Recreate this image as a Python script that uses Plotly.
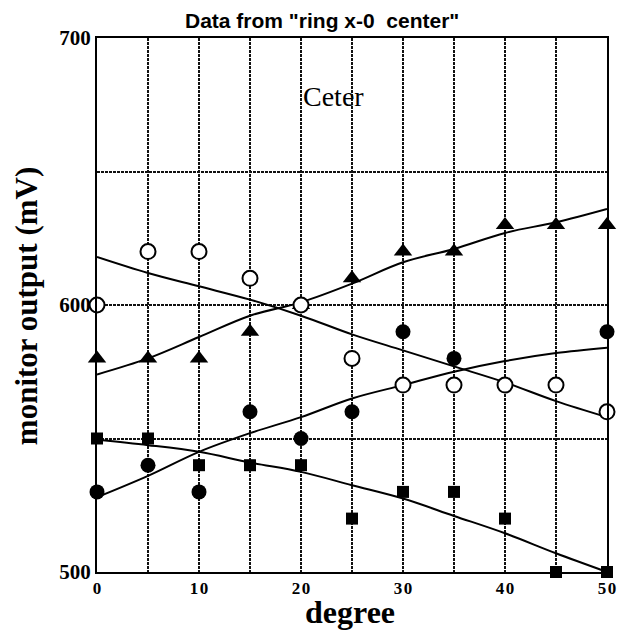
import plotly.graph_objects as go

degree = [0, 5, 10, 15, 20, 25, 30, 35, 40, 45, 50]

open_circle = [600, 620, 620, 610, 600, 580, 570, 570, 570, 570, 560]
triangle = [580, 580, 580, 590, 600, 610, 620, 620, 630, 630, 630]
square = [550, 550, 540, 540, 540, 520, 530, 530, 520, 500, 500]
filled_x = [0, 5, 10, 15, 20, 25, 30, 35, 50]
filled_circle = [530, 540, 530, 560, 550, 560, 590, 580, 590]

fit_open = [618, 612, 607, 602, 596, 589, 583, 577, 571, 564, 558]
fit_triangle = [574, 580, 588, 596, 601, 608, 616, 621, 627, 631, 636]
fit_filled = [528, 536, 545, 552, 558, 565, 570, 575, 579, 582, 584]
fit_square = [549.5, 547.5, 545, 541, 537.5, 532.5, 527.5, 521, 514.5, 507, 500]

x_ticks = [0, 10, 20, 30, 40, 50]
y_ticks = [500, 600, 700]

fig = go.Figure()

for fit in [fit_open, fit_triangle, fit_filled, fit_square]:
    fig.add_trace(go.Scatter(x=degree, y=fit, mode="lines", line=dict(color="black", width=2, shape="spline"),
                             showlegend=False, hoverinfo="skip", cliponaxis=False))

fig.add_trace(go.Scatter(x=degree, y=square, mode="markers",
                         marker=dict(symbol="square", size=12, color="black"), cliponaxis=False, showlegend=False))
fig.add_trace(go.Scatter(x=filled_x, y=filled_circle, mode="markers",
                         marker=dict(symbol="circle", size=15, color="black"), cliponaxis=False, showlegend=False))
fig.add_trace(go.Scatter(x=degree, y=triangle, mode="markers",
                         marker=dict(symbol="triangle-up", size=16, color="black"), cliponaxis=False, showlegend=False))
fig.add_trace(go.Scatter(x=degree, y=open_circle, mode="markers",
                         marker=dict(symbol="circle", size=15, color="white", line=dict(color="black", width=2)),
                         cliponaxis=False, showlegend=False))

fig.add_annotation(x=23.2, y=678, text="Ceter", showarrow=False,
                   font=dict(family="Liberation Serif", size=28, color="black"))

fig.add_annotation(xref="paper", yref="paper", x=0.442, y=1.032, text='Data from "ring x-0  center"',
                   showarrow=False, xanchor="center", yanchor="middle",
                   font=dict(family="Liberation Sans", size=21, color="black", weight="bold"))
fig.add_annotation(xref="paper", yref="paper", x=-0.139, y=0.498, text="monitor output (mV)",
                   showarrow=False, textangle=-90, xanchor="center", yanchor="middle", borderpad=0,
                   font=dict(family="Liberation Serif", size=31, color="black", weight="bold"))
fig.add_annotation(xref="paper", yref="paper", x=0.496, y=-0.075, text="degree",
                   showarrow=False, xanchor="center", yanchor="middle",
                   font=dict(family="Liberation Serif", size=32, color="black", weight="bold"))

grid = dict(showgrid=True, gridcolor="#111111", griddash="3px,1px", gridwidth=1.6)

fig.update_layout(
    width=620, height=637,
    margin=dict(l=97, r=13, t=38, b=65, autoexpand=False),
    paper_bgcolor="white", plot_bgcolor="white",
    xaxis=dict(range=[0, 50], tickvals=x_ticks, ticktext=["\u200a".join(str(v)) for v in x_ticks],
               minor=dict(dtick=5, **grid), **grid, automargin=False, ticklabeloverflow="allow",
               showline=True, linecolor="black", linewidth=2, mirror=True, ticks="",
               zeroline=False,
               tickfont=dict(family="Liberation Serif", size=17, color="black", weight="bold")),
    yaxis=dict(range=[500, 700], tickvals=y_ticks, showgrid=False, automargin=False,
               minor=dict(dtick=50, **grid),
               showline=True, linecolor="black", linewidth=2, mirror=True, ticks="",
               zeroline=False,
               tickfont=dict(family="Liberation Serif", size=21, color="black", weight="bold")),
)

fig.write_html("out.html", config={"displayModeBar": False},
               post_script="document.body.style.margin='0';document.body.style.overflow='hidden';")
